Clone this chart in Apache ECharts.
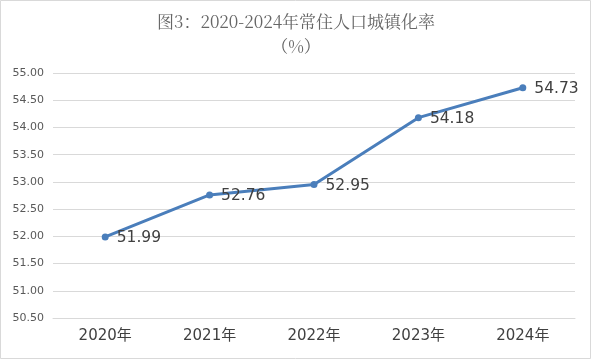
<!DOCTYPE html>
<html><head><meta charset="utf-8">
<script src="https://cdn.jsdelivr.net/npm/echarts@6/dist/echarts.min.js"></script>
<style>html,body{margin:0;padding:0;background:#fff}#c{width:592px;height:360px}</style>
</head><body><div id="c"></div>
<script>
const categories = ['2020年','2021年','2022年','2023年','2024年'];
const values = [51.99, 52.76, 52.95, 54.18, 54.73];
const titleText = '图3：2020-2024年常住人口城镇化率';
const subText = '（%）';
const chart = echarts.init(document.getElementById('c'), null, {renderer:'canvas'});
chart.setOption({
  backgroundColor:'#fff',
  animation:false,
  title:{
    text: titleText + '\n' + subText,
    left:'center', top:4,
    textStyle:{fontFamily:'"Noto Serif CJK SC","DejaVu Serif","Noto Sans CJK SC",serif',fontSize:17,fontWeight:'normal',color:'#666666',lineHeight:25}
  },
  graphic:[{type:'rect',shape:{x:0.5,y:0.5,width:590,height:358},style:{fill:'none',stroke:'#d9d9d9',lineWidth:1},silent:true}],
  grid:{left:53,right:17,top:73,bottom:42},
  xAxis:{type:'category',data:categories,boundaryGap:true,
    axisLine:{show:true,lineStyle:{color:'#d9d9d9'}},axisTick:{show:false},
    axisLabel:{color:'#404040',fontSize:15,margin:11,fontFamily:'"DejaVu Sans","Noto Sans CJK SC",sans-serif'}},
  yAxis:{type:'value',min:50.5,max:55,interval:0.5,
    axisLine:{show:false},axisTick:{show:false},
    splitLine:{lineStyle:{color:'#d9d9d9'}},
    axisLabel:{color:'#595959',fontSize:11,margin:9,formatter:v=>v.toFixed(2),fontFamily:'"DejaVu Sans",sans-serif'}},
  series:[{type:'line',data:values,symbol:'circle',symbolSize:7,
    lineStyle:{color:'#4a7ebb',width:3},itemStyle:{color:'#4a7ebb'},
    label:{show:true,position:'right',distance:8,color:'#404040',fontSize:15.5,formatter:p=>p.value.toFixed(2),fontFamily:'"DejaVu Sans",sans-serif',offset:[0,1]}}]
});
</script></body></html>
